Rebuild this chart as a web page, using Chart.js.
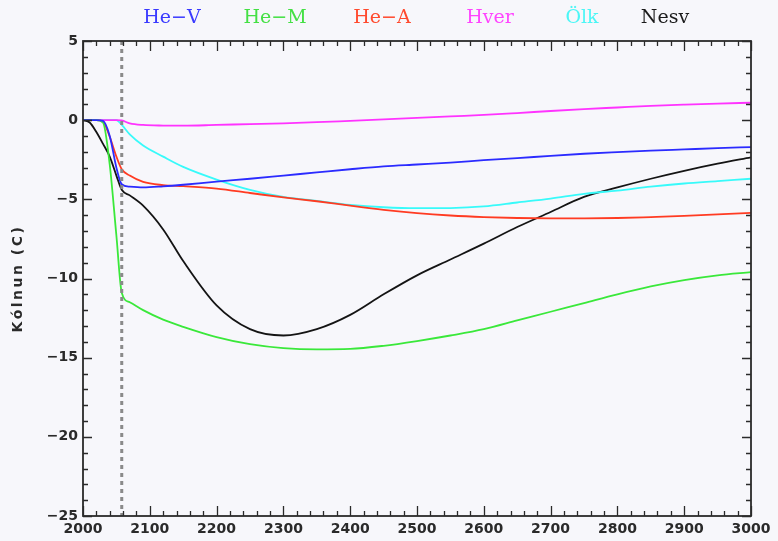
<!DOCTYPE html>
<html>
<head>
<meta charset="utf-8">
<script src="https://cdn.jsdelivr.net/npm/chart.js@4/dist/chart.umd.min.js"></script>
<style>
html,body{margin:0;padding:0;background:#f7f7fb;}
#wrap{width:778px;height:541px;position:relative;}
</style>
</head>
<body>
<div id="wrap"><canvas id="c" width="778" height="541"></canvas></div>
<script>
// ---- data ----
const years = [2000, 2010, 2020, 2030, 2040, 2050, 2058, 2070, 2090, 2120, 2150, 2200, 2250, 2300, 2350, 2400, 2450, 2500, 2550, 2600, 2650, 2700, 2750, 2800, 2850, 2900, 2950, 3000];
const heV  = [0, 0, 0, -0.05, -1.0, -3.0, -4.05, -4.2, -4.25, -4.18, -4.08, -3.88, -3.7, -3.5, -3.3, -3.1, -2.92, -2.8, -2.68, -2.53, -2.4, -2.25, -2.12, -2.02, -1.93, -1.85, -1.77, -1.7];
const heM  = [0, 0, 0, -0.15, -2.8, -7.3, -10.9, -11.5, -12.0, -12.6, -13.05, -13.7, -14.15, -14.4, -14.48, -14.45, -14.25, -13.95, -13.6, -13.2, -12.65, -12.1, -11.55, -11.0, -10.5, -10.1, -9.8, -9.6];
const heA  = [0, 0, 0, -0.1, -1.05, -2.3, -3.1, -3.5, -3.9, -4.1, -4.17, -4.32, -4.6, -4.88, -5.12, -5.4, -5.66, -5.87, -6.02, -6.12, -6.18, -6.2, -6.2, -6.18, -6.12, -6.05, -5.95, -5.85];
const hver = [0, 0, 0, 0, 0, 0, -0.02, -0.2, -0.3, -0.34, -0.35, -0.3, -0.25, -0.2, -0.13, -0.04, 0.05, 0.14, 0.24, 0.33, 0.45, 0.58, 0.7, 0.8, 0.9, 0.98, 1.05, 1.1];
const olk  = [0, 0, 0, 0, 0, 0, -0.3, -0.9, -1.6, -2.3, -2.95, -3.75, -4.4, -4.85, -5.1, -5.35, -5.5, -5.56, -5.55, -5.45, -5.2, -4.95, -4.65, -4.45, -4.2, -4.0, -3.85, -3.7];
const nesv = [0, -0.15, -0.75, -1.5, -2.3, -3.5, -4.4, -4.75, -5.4, -6.9, -8.9, -11.7, -13.2, -13.6, -13.2, -12.3, -11.0, -9.8, -8.8, -7.8, -6.75, -5.8, -4.85, -4.25, -3.7, -3.2, -2.75, -2.35];
const seriesNames = ['He\u2212V', 'He\u2212M', 'He\u2212A', 'Hver', '\u00D6lk', 'Nesv'];
const yTitle = 'Kólnun (C)';
const markerYear = 2058;
const xRange = [2000, 3000];
const yRange = [-25, 5];

const lineColors = ['#2b2bff', '#3ae83a', '#ff3b22', '#ff33ff', '#38fafa', '#141414'];
const textColors = ['#3a3aff', '#44e044', '#ff4a2e', '#ff44ff', '#4cf6f6', '#1a1a1a'];
const legendCenters = [172, 275, 382, 490, 582, 665];

const allSeries = [heV, heM, heA, hver, olk, nesv];
const datasets = allSeries.map((arr, i) => ({
  label: seriesNames[i],
  data: years.map((x, j) => ({x: x, y: arr[j]})),
  borderColor: lineColors[i],
  borderWidth: 1.8,
  pointRadius: 0,
  fill: false,
  cubicInterpolationMode: 'monotone',
  order: 2
}));
datasets.push({
  label: '',
  data: [{x: markerYear, y: yRange[1]}, {x: markerYear, y: yRange[0]}],
  borderColor: '#8a8a8a',
  borderWidth: 3,
  borderDash: [4, 4],
  pointRadius: 0,
  fill: false,
  order: 1
});

const bgPlugin = {
  id: 'bg',
  beforeDraw(chart) {
    const ctx = chart.ctx;
    ctx.save();
    ctx.fillStyle = '#f7f7fb';
    ctx.fillRect(0, 0, chart.width, chart.height);
    ctx.restore();
  }
};

const framePlugin = {
  id: 'frame',
  afterDatasetsDraw(chart) {
    const {ctx, chartArea: a, scales} = chart;
    const xs = scales.x, ys = scales.y;
    ctx.save();
    ctx.strokeStyle = '#2a2a2a';
    ctx.lineWidth = 1.8;
    ctx.strokeRect(a.left, a.top, a.right - a.left, a.bottom - a.top);
    ctx.lineWidth = 1.3;
    ctx.beginPath();
    for (let v = xRange[0]; v <= xRange[1]; v += 20) {
      const px = Math.round(xs.getPixelForValue(v)) + 0.5;
      const len = (v % 100 === 0) ? 10 : 5;
      ctx.moveTo(px, a.bottom); ctx.lineTo(px, a.bottom - len);
      ctx.moveTo(px, a.top); ctx.lineTo(px, a.top + len);
    }
    for (let v = yRange[0]; v <= yRange[1]; v += 1) {
      const py = Math.round(ys.getPixelForValue(v)) + 0.5;
      const len = (v % 5 === 0) ? 9 : 5;
      ctx.moveTo(a.left, py); ctx.lineTo(a.left + len, py);
      ctx.moveTo(a.right, py); ctx.lineTo(a.right - len, py);
    }
    ctx.stroke();
    ctx.restore();
  }
};

const textPlugin = {
  id: 'texts',
  afterDraw(chart) {
    const ctx = chart.ctx;
    const a = chart.chartArea;
    ctx.save();
    ctx.font = '19px "DejaVu Serif"';
    ctx.textAlign = 'center';
    ctx.textBaseline = 'middle';
    chart.data.datasets.forEach((ds, i) => {
      if (!ds.label) return;
      ctx.fillStyle = textColors[i];
      ctx.fillText(ds.label, legendCenters[i], 18);
    });
    ctx.restore();
    // y-axis title
    ctx.save();
    ctx.translate(18, (a.top + a.bottom) / 2);
    ctx.rotate(-Math.PI / 2);
    ctx.font = 'bold 14px "DejaVu Sans"';
    ctx.letterSpacing = '2.5px';
    ctx.fillStyle = '#2a2a2a';
    ctx.textAlign = 'center';
    ctx.textBaseline = 'middle';
    ctx.fillText(yTitle, 0, 0);
    ctx.restore();
  }
};

new Chart(document.getElementById('c'), {
  type: 'line',
  data: {datasets: datasets},
  options: {
    responsive: false,
    animation: false,
    devicePixelRatio: 1,
    layout: {padding: {top: 41, right: 27, bottom: 0, left: 0}},
    plugins: {legend: {display: false}, tooltip: {enabled: false}},
    scales: {
      x: {
        type: 'linear', min: xRange[0], max: xRange[1],
        grid: {display: false, drawTicks: false},
        border: {display: false},
        ticks: {stepSize: 100, padding: 5, color: '#2a2a2a', font: {family: 'DejaVu Sans', size: 14, weight: 'bold'}, maxRotation: 0,
          callback: v => String(v)},
        afterFit(s) { s.height = 25; }
      },
      y: {
        min: yRange[0], max: yRange[1],
        grid: {display: false, drawTicks: false},
        border: {display: false},
        ticks: {stepSize: 5, padding: 5, color: '#2a2a2a', font: {family: 'DejaVu Sans', size: 14, weight: 'bold'},
          callback: v => (v < 0 ? '\u2212' + Math.abs(v) : String(v))},
        afterFit(s) { s.width = 83; }
      }
    }
  },
  plugins: [bgPlugin, framePlugin, textPlugin]
});
</script>
</body>
</html>
